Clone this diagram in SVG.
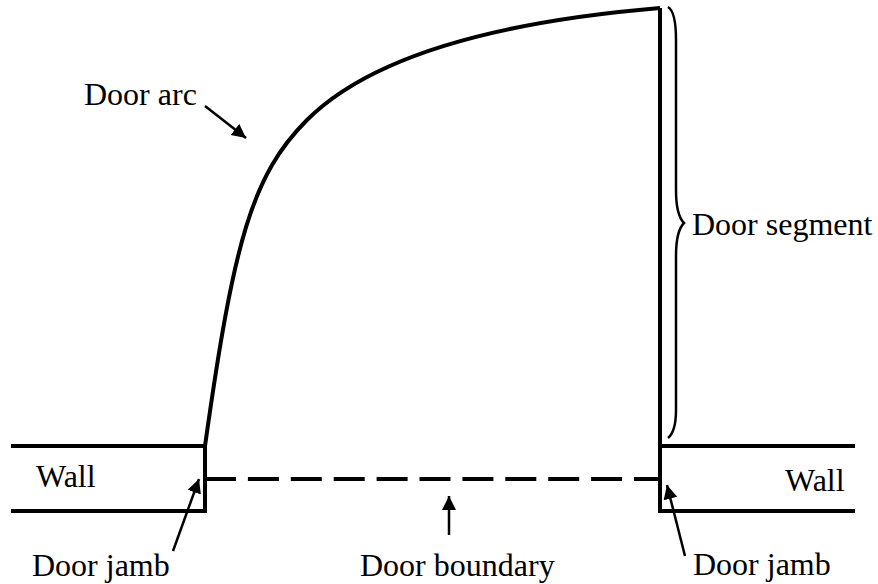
<svg xmlns="http://www.w3.org/2000/svg" width="878" height="584" viewBox="0 0 878 584">
<style>
.l{fill:none;stroke:#000;stroke-width:4}
.t{font-family:"Liberation Serif","Times New Roman",serif;font-size:32px;fill:#000}
.a{fill:none;stroke:#000;stroke-width:2.5;marker-end:url(#h)}
</style>
<defs><marker id="h" markerUnits="userSpaceOnUse" markerWidth="16" markerHeight="16" refX="14" refY="7" orient="auto"><path d="M0 0L14 7L0 14Z" fill="#000"/></marker></defs>
<rect width="878" height="584" fill="#fff"/>
<g id="walls">
<path class="l" d="M11 446H205V511H11"/>
<path class="l" d="M855 446H660M855 511H660V8"/>
</g>
<g id="door-arc"><path class="l" d="M205 446C234 240 252 175 307 120C362 65 470 24 660 8"/></g>
<g id="door-boundary"><path class="l" d="M205 479H660" stroke-dasharray="31 11.9"/></g>
<g id="brace"><path fill="none" stroke="#000" stroke-width="2.5" d="M668 7C673 10 676 20 676 40V190C676 208 679 218 684 223C679 228 676 238 676 256V410C676 425 673 434 668 438"/></g>
<g id="connectors">
<path class="a" d="M205 106L246 138"/>
<path class="a" d="M173 551L199 479"/>
<path class="a" d="M685 556L667 485"/>
<path class="a" d="M449 535V496"/>
</g>
<g id="labels">
<text class="t" x="84" y="105">Door arc</text>
<text class="t" x="692" y="235">Door segment</text>
<text class="t" x="36" y="487">Wall</text>
<text class="t" x="785" y="491">Wall</text>
<text class="t" x="32" y="576">Door jamb</text>
<text class="t" x="360" y="576">Door boundary</text>
<text class="t" x="693" y="575">Door jamb</text>
</g>
</svg>
